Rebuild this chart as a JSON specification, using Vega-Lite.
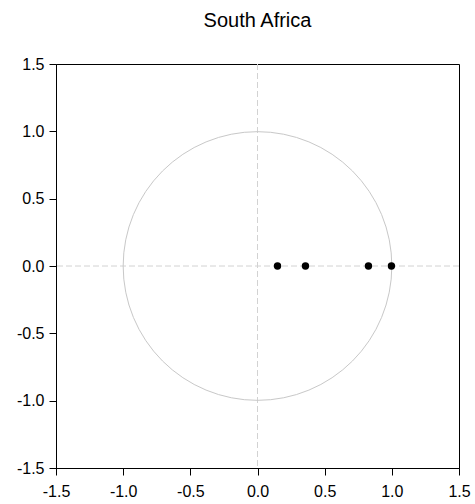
{
  "$schema": "https://vega.github.io/schema/vega-lite/v6.json",
  "autosize": "none",
  "padding": {"left": 56, "top": 64, "right": 16, "bottom": 36},
  "width": 403,
  "height": 404,
  "background": "white",
  "title": {
    "text": "South Africa",
    "font": "Liberation Sans",
    "fontSize": 20,
    "fontWeight": "normal",
    "color": "black",
    "anchor": "middle",
    "baseline": "alphabetic",
    "offset": 9
  },
  "config": {
    "view": {"stroke": "black", "strokeWidth": 1},
    "axis": {
      "grid": false,
      "domainColor": "black",
      "domainWidth": 1,
      "tickColor": "black",
      "tickSize": 7,
      "labelFont": "Liberation Sans",
      "labelFontSize": 16,
      "labelColor": "black",
      "labelFlush": false,
      "labelOverlap": false
    },
    "axisX": {"labelPadding": 8},
    "axisY": {"labelPadding": 5}
  },
  "datasets": {
    "roots": [
      {"re": 0.149, "im": 0},
      {"re": 0.357, "im": 0},
      {"re": 0.826, "im": 0},
      {"re": 0.997, "im": 0}
    ],
    "unit": [{"cx": 0, "cy": 0, "r": 1}]
  },
  "encoding": {
    "x": {
      "type": "quantitative",
      "scale": {"domain": [-1.5, 1.5], "nice": false, "zero": false},
      "axis": {
        "title": null,
        "values": [-1.5, -1, -0.5, 0, 0.5, 1, 1.5],
        "labelExpr": "replace(format(datum.value, '.1f'), '\u2212', '-')"
      }
    },
    "y": {
      "type": "quantitative",
      "scale": {"domain": [-1.5, 1.5], "nice": false, "zero": false},
      "axis": {
        "title": null,
        "values": [-1.5, -1, -0.5, 0, 0.5, 1, 1.5],
        "labelExpr": "replace(format(datum.value, '.1f'), '\u2212', '-')"
      }
    }
  },
  "layer": [
    {
      "data": {"name": "unit"},
      "mark": {"type": "rule", "color": "#d2d2d2", "strokeWidth": 1, "strokeDash": [6, 3]},
      "encoding": {
        "x": {"field": "cx"},
        "y": null
      }
    },
    {
      "data": {"name": "unit"},
      "mark": {"type": "rule", "color": "#d2d2d2", "strokeWidth": 1, "strokeDash": [6, 3]},
      "encoding": {
        "x": null,
        "y": {"field": "cy"}
      }
    },
    {
      "data": {"name": "unit"},
      "mark": {"type": "arc", "filled": false, "stroke": "#c8c8c8", "strokeWidth": 1},
      "encoding": {
        "x": {"field": "cx"},
        "y": {"field": "cy"},
        "radius": {
          "field": "r",
          "type": "quantitative",
          "scale": {"type": "linear", "domain": [0, 1.5], "range": [0, {"expr": "width / 2"}], "zero": true}
        }
      }
    },
    {
      "data": {"name": "roots"},
      "mark": {"type": "point", "filled": true, "color": "black", "size": 55, "opacity": 1},
      "encoding": {
        "x": {"field": "re"},
        "y": {"field": "im"}
      }
    }
  ]
}
